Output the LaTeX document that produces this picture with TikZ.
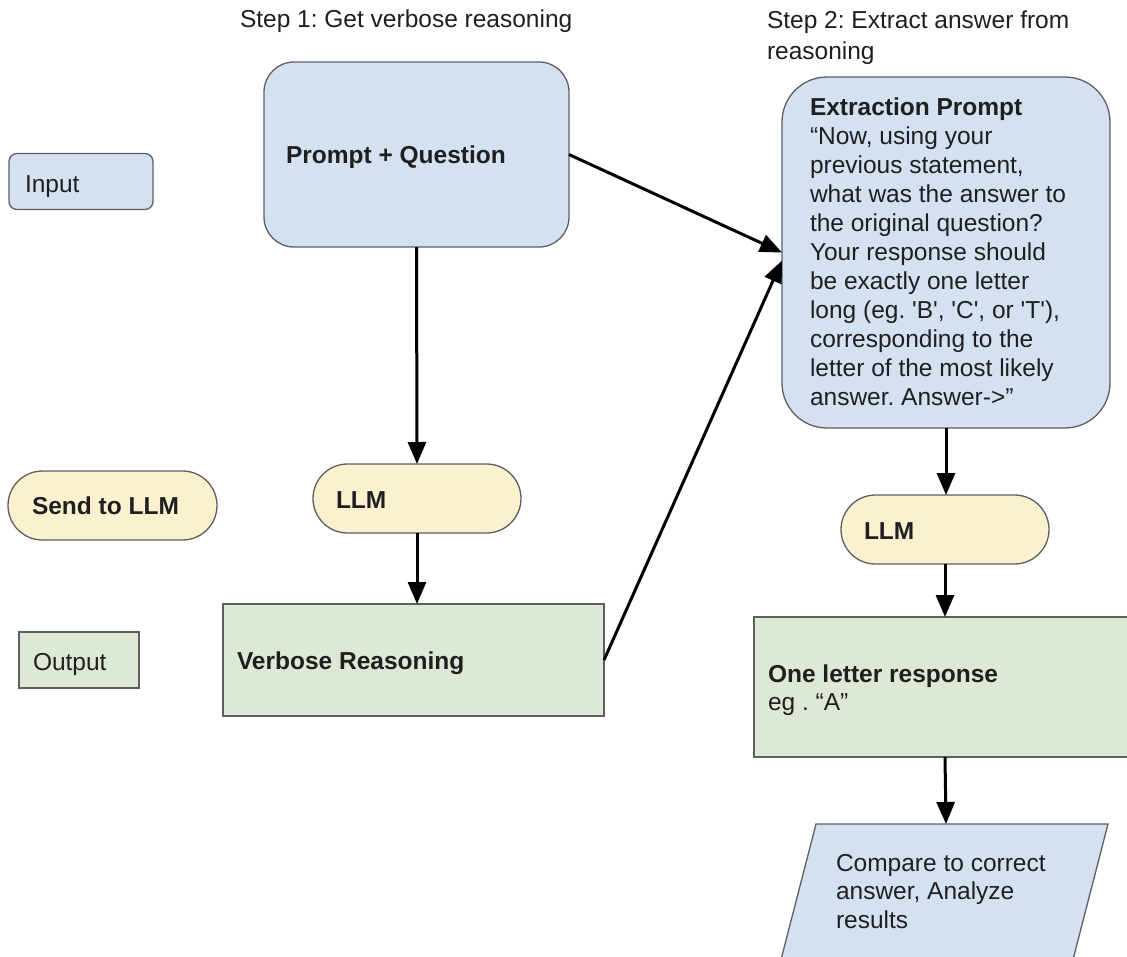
\documentclass[tikz,border=0pt]{standalone}
\usepackage{fontspec}
\setmainfont{Liberation Sans}[Ligatures=TeXOff]
\usetikzlibrary{arrows.meta,shapes.misc}
\definecolor{bluefill}{HTML}{D4E1F1}
\definecolor{yellowfill}{HTML}{FBF1CF}
\definecolor{greenfill}{HTML}{DDE8D5}
\definecolor{edge}{HTML}{5F5F5F}
\definecolor{txt}{HTML}{1F1F1F}
\frenchspacing
\begin{document}
\begin{tikzpicture}[x=1pt,y=-1pt,
  box/.style={draw=edge, line width=1.3pt, inner sep=0pt, outer sep=0pt},
  bluebox/.style={box, rectangle, fill=bluefill},
  greenbox/.style={box, rectangle, fill=greenfill},
  pill/.style={box, rounded rectangle, fill=yellowfill, minimum width=208pt, minimum height=69pt},
  lbl/.style={inner sep=0pt, outer sep=0pt, anchor=base west, text=txt, font=\fontsize{24.5}{29}\selectfont\frenchspacing},
  blbl/.style={lbl, font=\fontsize{24.5}{29}\selectfont\frenchspacing\bfseries},
  arr/.style={line width=3pt, -{Triangle[length=22pt,width=18pt]}},
]
\useasboundingbox (0,0) rectangle (1127,956);

% titles
\node[lbl] (t1) at (240,27) {Step 1: Get verbose reasoning};
\node[lbl] (t2) at (767,28) {\vtop{\baselineskip=31pt\hbox{Step 2: Extract answer from}\hbox{reasoning}}};

% legend
\node[bluebox, rounded corners=8pt, minimum width=144pt, minimum height=56pt] (leginput) at (81,181.5) {};
\node[lbl] (leginputt) at (25,192) {Input};
\node[pill, minimum width=209pt] (legllm) at (112.5,505.5) {};
\node[blbl] (legllmt) at (32,514) {Send to LLM};
\node[greenbox, minimum width=120pt, minimum height=56pt] (legout) at (79,660) {};
\node[lbl] (legoutt) at (33,670) {Output};

% step 1
\node[bluebox, rounded corners=30pt, minimum width=305pt, minimum height=185pt] (pq) at (416.5,154.5) {};
\node[blbl] (pqt) at (286,163) {Prompt + Question};
\node[pill] (llm1) at (417,498.5) {};
\node[blbl] (llm1t) at (336,508) {LLM};
\node[greenbox, minimum width=381pt, minimum height=112pt] (verb) at (413.5,660) {};
\node[blbl] (verbt) at (237,669) {Verbose Reasoning};

% step 2
\node[bluebox, rounded corners=45pt, minimum width=328pt, minimum height=351pt] (ext) at (946,252.5) {};
\node[lbl] (extt) at (810,115) {\vtop{\baselineskip=29pt
  \hbox{\bfseries Extraction Prompt}
  \hbox{“Now, using your}
  \hbox{previous statement,}
  \hbox{what was the answer to}
  \hbox{the original question?}
  \hbox{Your response should}
  \hbox{be exactly one letter}
  \hbox{long (eg. 'B', 'C', or 'T'),}
  \hbox{corresponding to the}
  \hbox{letter of the most likely}
  \hbox{answer. Answer->”}}};
\node[pill] (llm2) at (945,529.5) {};
\node[blbl] (llm2t) at (864,539) {LLM};
\node[greenbox, minimum width=386pt, minimum height=140pt] (one) at (947,687) {};
\node[lbl] (onet) at (768,682) {\vtop{\baselineskip=28pt
  \hbox{\bfseries One letter response}
  \hbox{eg . “A”}}};

% parallelogram
\path[draw=edge, line width=1.3pt, fill=bluefill] (816,824) -- (1108,824) -- (1069,975) -- (777,975) -- cycle;
\coordinate (cmptop) at (946,824);
\node[lbl] (cmpt) at (836,871) {\vtop{\baselineskip=28.5pt
  \hbox{Compare to correct}
  \hbox{answer, Analyze}
  \hbox{results}}};

% connectors
\draw[arr] (pq.south) -- (llm1.north);
\draw[arr] (llm1.south) -- (llm1.south |- verb.north);
\draw[arr] (pq.east) -- (ext.west);
\draw[arr] (verb.east) -- ([yshift=-8pt]ext.west);
\draw[arr] (ext.south) -- (ext.south |- llm2.north);
\draw[arr] (llm2.south) -- (llm2.south |- one.north);
\draw[arr] (llm2.south |- one.south) -- (cmptop);
\end{tikzpicture}
\end{document}
